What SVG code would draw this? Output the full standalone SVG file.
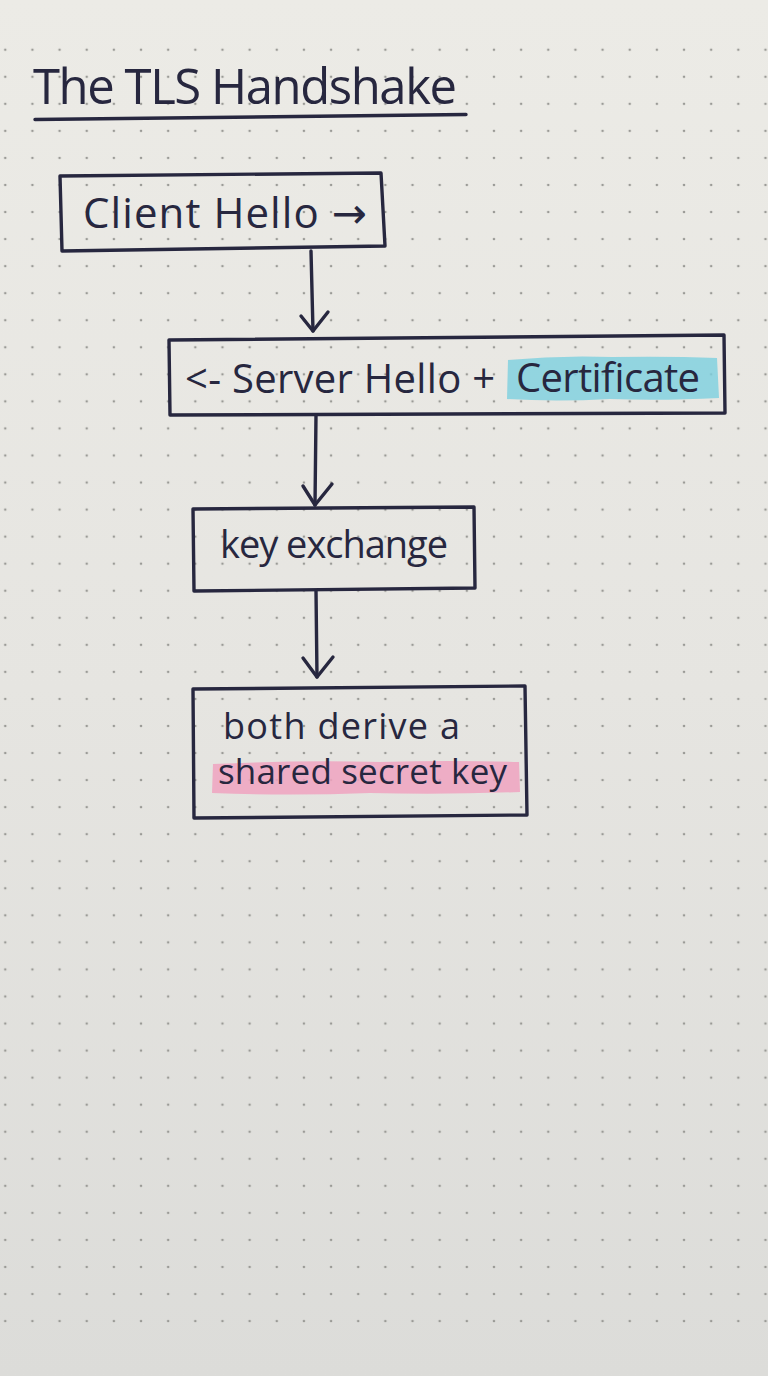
<svg xmlns="http://www.w3.org/2000/svg" width="768" height="1376" viewBox="0 0 768 1376">
  <defs>
    <linearGradient id="paper" x1="0" y1="0" x2="0" y2="1">
      <stop offset="0" stop-color="#ecebe6"/>
      <stop offset="0.5" stop-color="#e6e5e1"/>
      <stop offset="1" stop-color="#dcdcd9"/>
    </linearGradient>
    <pattern id="dots" patternUnits="userSpaceOnUse" x="-8.3" y="36.2" width="27.15" height="27.05">
      <circle cx="13.575" cy="13.5" r="1.3" fill="#9a9a96"/>
    </pattern>
    <style>
      .ink { fill: none; stroke: #27273f; stroke-width: 3.4; stroke-linejoin: round; stroke-linecap: round; }
      .txt { font-family: "Open Sans", "Noto Sans", "DejaVu Sans", sans-serif; fill: #27273f; }
      .hl-cyan { fill: #7ccfdf; opacity: 0.8; }
      .hl-pink { fill: #f0a3bf; opacity: 0.85; }
    </style>
  </defs>

  <rect x="0" y="0" width="768" height="1376" fill="url(#paper)"/>
  <rect x="0" y="36" width="768" height="1300" fill="url(#dots)"/>

  <g id="title">
    <text class="txt" x="33" y="104" font-size="49" textLength="424" lengthAdjust="spacing">The TLS Handshake</text>
    <path class="ink" d="M35,119.5 L466,114.5" stroke-width="3.6"/>
  </g>

  <g id="node-client-hello">
    <path class="ink" d="M60,176 L381,173 L385,246 L62,251 Z"/>
    <text class="txt" x="83" y="228" font-size="42" textLength="284" lengthAdjust="spacing">Client Hello →</text>
  </g>

  <g id="node-server-hello">
    <path class="hl-cyan" d="M508,360 Q560,355 612,357 Q668,356 717,358 L719,398 Q660,401 610,399 Q555,402 507,399 Z"/>
    <path class="ink" d="M169,340 L724,335 L725,413 L170,415 Z"/>
    <text class="txt" x="185" y="393" font-size="40" textLength="310" lengthAdjust="spacing">&lt;- Server Hello +</text>
    <text class="txt" x="516" y="392" font-size="40" textLength="184" lengthAdjust="spacing">Certificate</text>
  </g>

  <g id="node-key-exchange">
    <path class="ink" d="M193,509 L474,507 L475,588 L194,591 Z"/>
    <text class="txt" x="220" y="558" font-size="38" textLength="228" lengthAdjust="spacing">key exchange</text>
  </g>

  <g id="node-shared-secret">
    <path class="hl-pink" d="M213,764 Q300,760 380,762 Q450,760 519,762 L520,792 Q440,795 370,793 Q290,796 212,793 Z"/>
    <path class="ink" d="M193,689 L525,686 L527,815 L194,818 Z"/>
    <text class="txt" x="223" y="739" font-size="36" textLength="237" lengthAdjust="spacing">both derive a</text>
    <text class="txt" x="218" y="784" font-size="35" textLength="289" lengthAdjust="spacing">shared secret key</text>
  </g>

  <g id="connectors">
    <path class="ink" d="M311,251 L313,331"/>
    <path class="ink" d="M301,316 L313,331 L328,312"/>
    <path class="ink" d="M316,415 L315,505"/>
    <path class="ink" d="M303,486 L315,505 L332,484"/>
    <path class="ink" d="M316,591 L317,677"/>
    <path class="ink" d="M303,658 L317,677 L333,657"/>
  </g>
</svg>
